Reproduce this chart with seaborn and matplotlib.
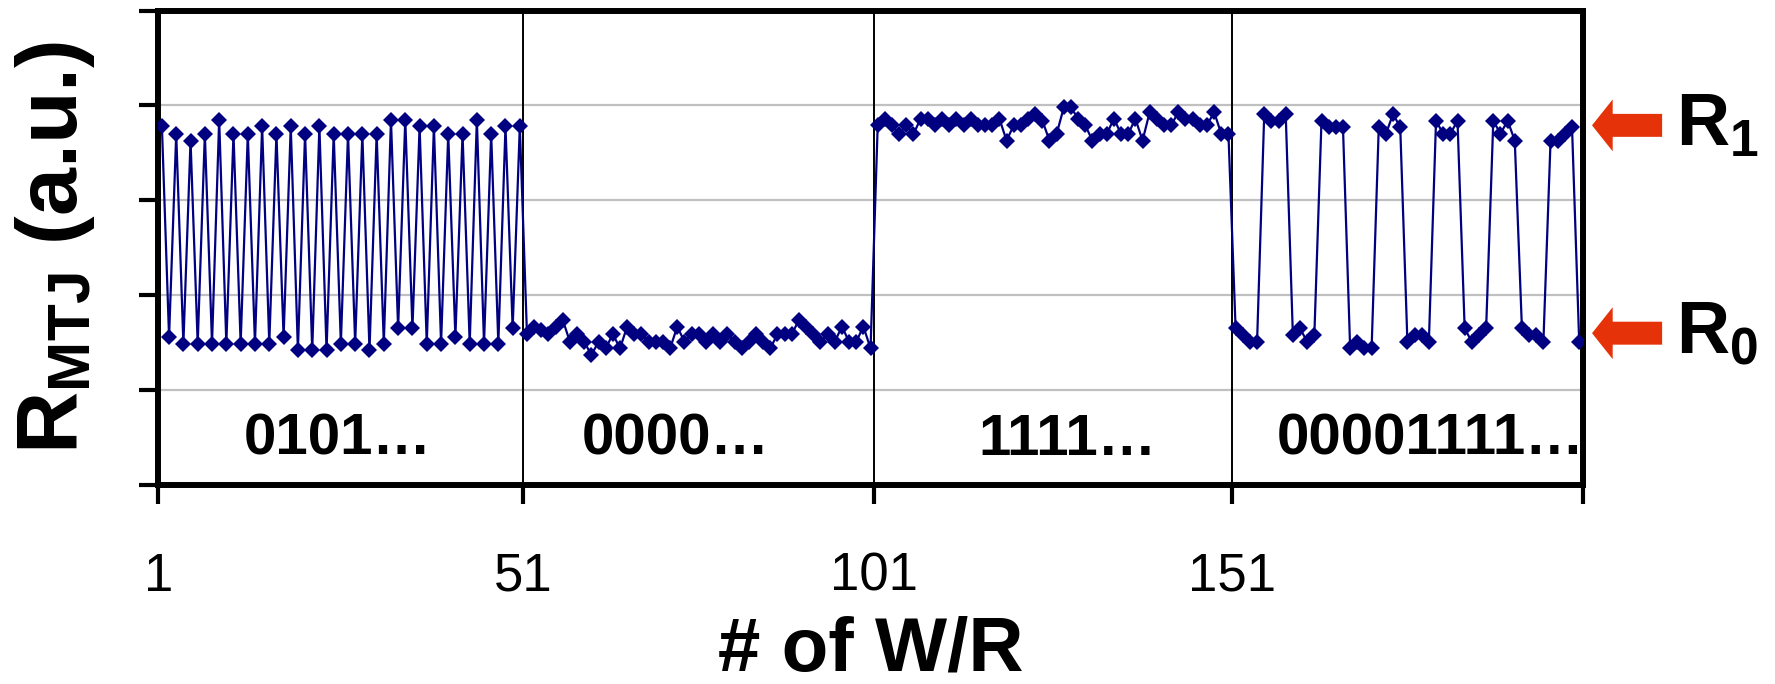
import numpy as np
import pandas as pd
import matplotlib
matplotlib.use("Agg")
import matplotlib.pyplot as plt
import matplotlib.patches as mpatches
import matplotlib.transforms as mtransforms
import seaborn as sns

# Read-out resistance after each write/read cycle, grouped by written pattern
r_pattern_0101 = [3.78, 1.56, 3.70, 1.49, 3.63, 1.49, 3.70, 1.49, 3.85, 1.49,
                  3.70, 1.49, 3.70, 1.49, 3.78, 1.49, 3.70, 1.56, 3.78, 1.42,
                  3.70, 1.42, 3.78, 1.42, 3.70, 1.49, 3.70, 1.49, 3.70, 1.42,
                  3.70, 1.49, 3.85, 1.65, 3.85, 1.65, 3.78, 1.49, 3.78, 1.49,
                  3.70, 1.56, 3.70, 1.49, 3.85, 1.49, 3.70, 1.49, 3.78, 1.65,
                  3.78]
r_pattern_0000 = [1.59, 1.67, 1.63, 1.59, 1.67, 1.74, 1.51, 1.59, 1.51, 1.37,
                  1.51, 1.44, 1.59, 1.44, 1.67, 1.59, 1.59, 1.51, 1.51, 1.51,
                  1.44, 1.67, 1.51, 1.59, 1.59, 1.51, 1.59, 1.51, 1.59, 1.51,
                  1.44, 1.51, 1.59, 1.51, 1.44, 1.59, 1.59, 1.59, 1.74, 1.67,
                  1.59, 1.51, 1.59, 1.51, 1.67, 1.51, 1.51, 1.67, 1.44]
r_pattern_1111 = [3.79, 3.86, 3.79, 3.70, 3.79, 3.70, 3.86, 3.86, 3.79, 3.86,
                  3.79, 3.86, 3.79, 3.86, 3.79, 3.79, 3.79, 3.86, 3.63, 3.79,
                  3.79, 3.86, 3.91, 3.84, 3.63, 3.70, 3.98, 3.98, 3.86, 3.79,
                  3.63, 3.70, 3.70, 3.86, 3.70, 3.70, 3.86, 3.63, 3.93, 3.86,
                  3.79, 3.79, 3.93, 3.86, 3.86, 3.79, 3.79, 3.93, 3.70, 3.70]
r_pattern_00001111 = [1.65, 1.58, 1.51, 1.51, 3.91, 3.84, 3.84, 3.91, 1.58, 1.65,
                      1.51, 1.58, 3.84, 3.77, 3.77, 3.77, 1.44, 1.51, 1.44, 1.44,
                      3.77, 3.70, 3.91, 3.77, 1.51, 1.58, 1.58, 1.51, 3.84, 3.70,
                      3.70, 3.84, 1.65, 1.51, 1.58, 1.65, 3.84, 3.70, 3.84, 3.63,
                      1.65, 1.58, 1.58, 1.51, 3.63, 3.63, 3.70, 3.77, 1.51]

pattern_names = ["0101\u2026", "0000\u2026", "1111\u2026", "00001111\u2026"]
pattern_label_x = [25.5, 72.8, 127.5, 178.3]
x_tick_labels = ["1", "51", "101", "151", ""]
R1_LEVEL = 3.79
R0_LEVEL = 1.60

resistance = np.concatenate([r_pattern_0101, r_pattern_0000,
                             r_pattern_1111, r_pattern_00001111])
cycle = np.arange(1, len(resistance) + 1)
df = pd.DataFrame({"cycle": cycle, "R": resistance})

sns.set_theme(style="white")
plt.rcParams["font.family"] = ["Liberation Sans", "DejaVu Sans"]
plt.rcParams["mathtext.fontset"] = "custom"
plt.rcParams["mathtext.rm"] = "Liberation Sans"
plt.rcParams["mathtext.bf"] = "Liberation Sans:bold"

fig = plt.figure(figsize=(17.75, 6.84), dpi=100)
ax = fig.add_axes([0.0892, 0.2909, 0.8025, 0.6937])

navy = "#000080"
sns.lineplot(data=df, x="cycle", y="R", ax=ax, color=navy, linewidth=1.6,
             marker="D", markersize=7.8, markeredgewidth=0, zorder=3)

n = len(resistance)
ax.set_xlim(0.5, n + 0.5)
ax.set_ylim(0, 5)

# section boundaries between the written patterns
bounds = np.cumsum([len(r_pattern_0101), len(r_pattern_0000),
                    len(r_pattern_1111)]) + 0.5
for b in bounds:
    ax.axvline(b, color="black", lw=1.4, zorder=1.5)

ax.set_xticks(np.concatenate([[0.5], bounds, [n + 0.5]]))
ax.set_xticklabels(x_tick_labels)
ax.set_yticks(np.arange(0, 6))
ax.set_yticklabels([])

ax.set_axisbelow(True)
ax.yaxis.grid(True, color="#c0c0c0", lw=1.6)
ax.xaxis.grid(False)

for s in ax.spines.values():
    s.set_visible(True)
    s.set_color("black")
    s.set_linewidth(4.3)

ax.tick_params(axis="both", which="major", direction="out", length=14,
               width=3, color="black", left=True, bottom=True)
ax.tick_params(axis="x", labelsize=38, pad=34, labelcolor="black")

for name, xc in zip(pattern_names, pattern_label_x):
    ax.text(xc, 0.32, name, ha="center", va="baseline", fontsize=42,
            fontweight="bold", color="black")

ax.set_xlabel("# of W/R", fontsize=55, fontweight="bold", color="black")
ax.xaxis.set_label_coords(0.5, -0.275)
ax.set_ylabel(r"$\mathbf{R_{MTJ}}$ (a.u.)", fontsize=62, fontweight="bold",
              color="black")
ax.yaxis.set_label_coords(-0.043, 0.5)

# state markers on the right-hand side
trans = mtransforms.blended_transform_factory(ax.transAxes, ax.transData)
arrow_color = "#E63208"
for level, lab in [(R1_LEVEL, r"$\mathbf{R_1}$"), (R0_LEVEL, r"$\mathbf{R_0}$")]:
    arr = mpatches.FancyArrow(1.0557, level, -0.0492, 0, width=0.242,
                              head_width=0.547, head_length=0.0145,
                              length_includes_head=True, transform=trans,
                              color=arrow_color, lw=0, clip_on=False)
    ax.add_patch(arr)
    ax.text(1.0655, level, lab, transform=trans, ha="left", va="center",
            fontsize=53, color="black")

fig.savefig("out.png", dpi=100)
